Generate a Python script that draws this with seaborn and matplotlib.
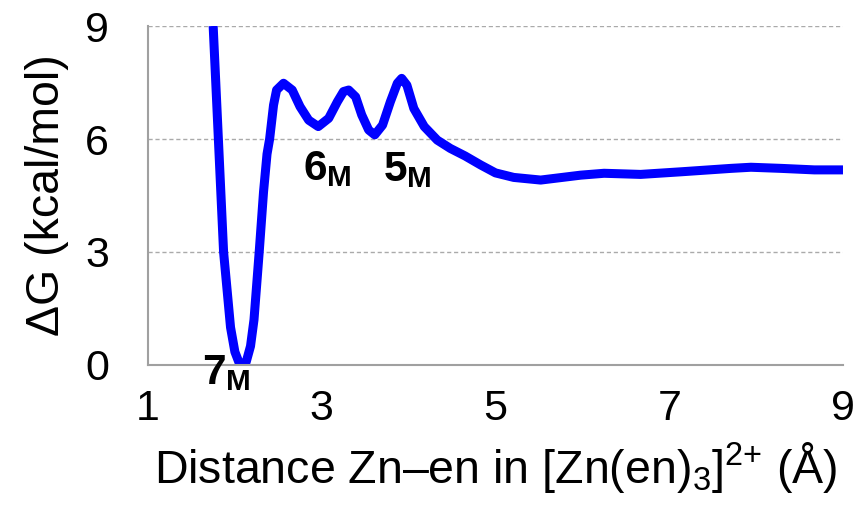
import numpy as np
import pandas as pd
import matplotlib
matplotlib.use("Agg")
import matplotlib.pyplot as plt
import seaborn as sns

distance = [1.75, 1.78, 1.81, 1.84, 1.87, 1.91, 1.95, 2.00, 2.05, 2.09, 2.13, 2.18, 2.22,
            2.28, 2.33, 2.37, 2.40, 2.445, 2.48, 2.56, 2.66, 2.75, 2.85, 2.96, 3.08, 3.18,
            3.25, 3.31, 3.39, 3.46, 3.54, 3.61, 3.70, 3.79, 3.87, 3.92, 3.98, 4.06, 4.18,
            4.33, 4.48, 4.65, 4.83, 5.00, 5.21, 5.52, 5.98, 6.25, 6.67, 7.14, 7.71, 7.94,
            8.29, 8.67, 9.00]
dG = [9.00, 7.50, 6.00, 4.50, 3.00, 2.00, 1.00, 0.35, 0.05, 0.00, 0.08, 0.50, 1.20,
      3.00, 4.60, 5.60, 6.00, 6.90, 7.30, 7.48, 7.30, 6.86, 6.50, 6.33, 6.55, 6.99,
      7.26, 7.30, 7.12, 6.64, 6.24, 6.11, 6.37, 6.99, 7.48, 7.61, 7.43, 6.81, 6.33,
      5.97, 5.75, 5.55, 5.31, 5.10, 4.98, 4.91, 5.04, 5.09, 5.06, 5.13, 5.22, 5.25,
      5.22, 5.18, 5.18]

labels = ["7", "6", "5"]
label_x = [1.90, 3.065, 3.99]
label_y = [-0.21, 5.20, 5.18]

xticks = [1, 3, 5, 7, 9]
yticks = [0, 3, 6, 9]

sns.set_theme(style="white")
plt.rcParams["font.family"] = ["Liberation Sans", "DejaVu Sans"]
plt.rcParams["mathtext.fontset"] = "custom"
plt.rcParams["mathtext.rm"] = "Liberation Sans"
plt.rcParams["mathtext.bf"] = "Liberation Sans:bold"
plt.rcParams["mathtext.default"] = "regular"

fig = plt.figure(figsize=(8.58, 5.14), dpi=100)
ax = fig.add_axes([0.1725, 0.2899, 0.81, 0.6595])

df = pd.DataFrame({"distance": distance, "dG": dG})
sns.lineplot(data=df, x="distance", y="dG", ax=ax, color="#0000FF", linewidth=6.5,
             sort=False, solid_capstyle="butt", solid_joinstyle="round", clip_on=True)

ax.set_xlim(1, 9)
ax.set_ylim(0, 9)
ax.set_xticks(xticks)
ax.set_yticks(yticks)
ax.set_xticklabels([str(t) for t in xticks], fontsize=31, color="black")
ax.set_yticklabels([str(t) for t in yticks], fontsize=31, color="black")

for y in [3, 6, 9]:
    ax.axhline(y, color="#aaaaaa", linestyle=(0, (3, 2)), linewidth=1.0, zorder=0)

for side in ["top", "right"]:
    ax.spines[side].set_visible(False)
for side in ["left", "bottom"]:
    ax.spines[side].set_color("#a0a0a0")
    ax.spines[side].set_linewidth(1.5)

ax.tick_params(axis="both", direction="out", length=10, width=1.5, color="#a0a0a0",
               labelcolor="black")
ax.tick_params(axis="y", pad=18)
ax.tick_params(axis="x", pad=7)

for lab, lx, ly in zip(labels, label_x, label_y):
    ax.text(lx, ly, r"$\mathbf{%s}_{\mathbf{M}}$" % lab, fontsize=30.5, ha="center",
            va="center", color="black", clip_on=False)

ax.set_xlabel(r"Distance Zn–en in [Zn(en)$_3$]$^{2{+}}$ (Å)", fontsize=33.5, labelpad=8,
              color="black")
ax.set_ylabel("ΔG (kcal/mol)", fontsize=33.5, labelpad=12, color="black")

fig.savefig("out.png", dpi=100)
